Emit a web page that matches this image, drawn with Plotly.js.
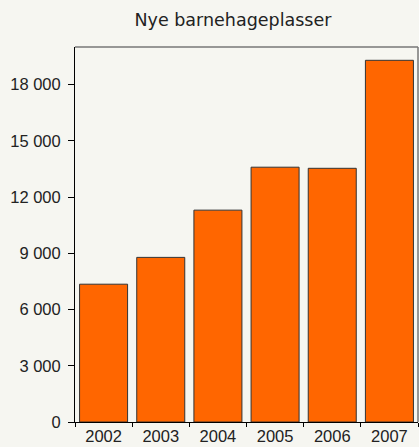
<!DOCTYPE html>
<html>
<head>
<meta charset="utf-8">
<script src="https://cdn.plot.ly/plotly-3.0.1.min.js"></script>
<style>
  html, body { margin: 0; padding: 0; background: #f6f6f1; }
  #chart { width: 419px; height: 447px; }
</style>
</head>
<body>
<div id="chart"></div>
<script>
var years = ['2002', '2003', '2004', '2005', '2006', '2007'];
var newPlaces = [7350, 8780, 11300, 13590, 13530, 19290];
var yTickValues = [0, 3000, 6000, 9000, 12000, 15000, 18000];
var yTickLabels = ['0', '3 000', '6 000', '9 000', '12 000', '15 000', '18 000'];

var data = [
  {
    type: 'bar',
    x: years,
    y: newPlaces,
    marker: { color: '#ff6600', line: { color: '#333333', width: 1 } },
    hoverinfo: 'x+y'
  }
];

var layout = {
  width: 419,
  height: 447,
  margin: { l: 75, r: 1, t: 47, b: 25 },
  paper_bgcolor: '#f6f6f1',
  plot_bgcolor: '#f6f6f1',
  bargap: 0.16,
  showlegend: false,
  title: {
    text: 'Nye barnehageplasser',
    font: { family: 'DejaVu Sans', size: 17.5, color: '#222' },
    x: 0.556, xanchor: 'center', y: 0.955, yanchor: 'middle'
  },
  font: { family: 'Liberation Sans', size: 16.5, color: '#222' },
  xaxis: {
    type: 'category',
    showline: true, linecolor: '#000', linewidth: 1,
    ticks: 'outside', ticklen: 4, tickcolor: '#000', tickson: 'boundaries',
    ticklabelstandoff: -1,
    showgrid: false, zeroline: false
  },
  yaxis: {
    range: [0, 20000],
    tickvals: yTickValues, ticktext: yTickLabels,
    showline: true, linecolor: '#000', linewidth: 1,
    ticks: 'outside', ticklen: 6, tickcolor: '#000', ticklabelstandoff: 4,
    showgrid: false, zeroline: false
  },
  shapes: [
    { type: 'line', xref: 'paper', yref: 'paper', x0: 0, x1: 1, y0: 1, y1: 1, line: { color: '#777', width: 1.5 } },
    { type: 'line', xref: 'paper', yref: 'paper', x0: 1, x1: 1, y0: 0, y1: 1, line: { color: '#777', width: 1.5 } }
  ]
};

Plotly.newPlot('chart', data, layout, { displayModeBar: false, staticPlot: true });
</script>
</body>
</html>
